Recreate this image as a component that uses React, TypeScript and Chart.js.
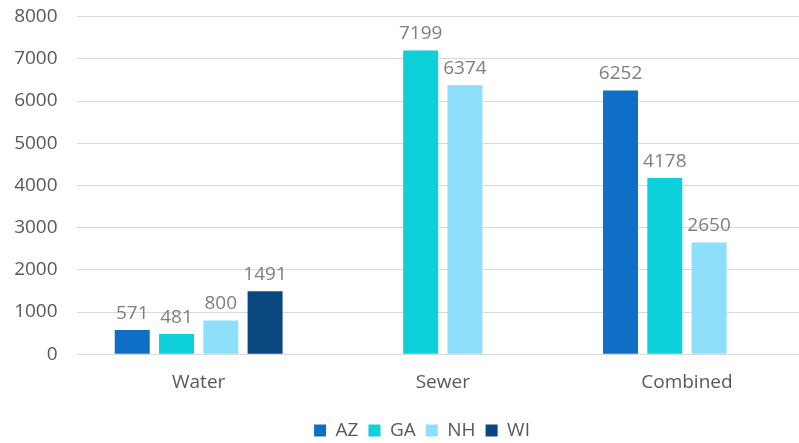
import React, { useEffect, useRef } from "react";
import { Chart, registerables } from "chart.js";

Chart.register(...registerables);

const categories = ["Water", "Sewer", "Combined"];
const seriesNames = ["AZ", "GA", "NH", "WI"];
const azValues: (number | null)[] = [571, null, 6252];
const gaValues: (number | null)[] = [481, 7199, 4178];
const nhValues: (number | null)[] = [800, 6374, 2650];
const wiValues: (number | null)[] = [1491, null, null];
const seriesColors = ["#0F6FC6", "#0DD0DA", "#8DDFFC", "#0A4680"];
const yTicks = [0, 1000, 2000, 3000, 4000, 5000, 6000, 7000, 8000];

const FONT = "'Open Sans', 'Noto Sans', sans-serif";

const valueLabels = {
  id: "valueLabels",
  afterDatasetsDraw(chart: any) {
    const ctx = chart.ctx;
    ctx.save();
    ctx.font = `19px ${FONT}`;
    ctx.fillStyle = "#7F7F7F";
    ctx.textAlign = "center";
    ctx.textBaseline = "alphabetic";
    chart.data.datasets.forEach((ds: any, di: number) => {
      const meta = chart.getDatasetMeta(di);
      meta.data.forEach((el: any, i: number) => {
        const v = ds.data[i];
        if (v === null || v === undefined) return;
        ctx.fillText(String(v), el.x, el.y - 11);
      });
    });
    ctx.restore();
  },
};

const legendShift = {
  id: "legendShift",
  afterLayout(chart: any) {
    if (chart.legend) {
      chart.legend.left += 11;
      chart.legend.right += 11;
    }
  },
};

export default function App() {
  const ref = useRef<HTMLCanvasElement | null>(null);
  useEffect(() => {
    if (!ref.current) return;
    const all = [azValues, gaValues, nhValues, wiValues];
    const chart = new Chart(ref.current, {
      type: "bar",
      data: {
        labels: categories,
        datasets: seriesNames.map((n, i) => ({
          label: n,
          data: all[i],
          backgroundColor: seriesColors[i],
          borderWidth: 0,
          categoryPercentage: 0.7255,
          barPercentage: 0.79,
        })),
      },
      options: {
        animation: false,
        responsive: false,
        maintainAspectRatio: false,
        layout: { padding: { left: 13, right: 3, top: 0, bottom: 0 } },
        plugins: {
          tooltip: { enabled: false },
          legend: {
            position: "bottom",
            labels: {
              boxWidth: 12,
              boxHeight: 12,
              padding: 10,
              color: "#595959",
              font: { family: FONT, size: 19 },
            },
          },
        },
        scales: {
          x: {
            grid: { display: false, drawTicks: false },
            border: { display: false },
            ticks: {
              color: "#595959",
              padding: 17,
              font: { family: FONT, size: 19 },
            },
          },
          y: {
            min: 0,
            max: 8000,
            afterBuildTicks: (axis: any) => {
              axis.ticks = yTicks.map((v) => ({ value: v }));
            },
            afterFit: (axis: any) => {
              axis.width = 63.6;
              axis.paddingTop = 16.7;
            },
            grid: { color: "#D9D9D9", lineWidth: 1, drawTicks: false },
            border: { display: false },
            ticks: {
              color: "#595959",
              padding: 19,
              font: { family: FONT, size: 19 },
              callback: (v: any) => String(v),
            },
          },
        },
      },
      plugins: [valueLabels, legendShift],
    });
    return () => chart.destroy();
  }, []);
  return (
    <div
      style={{
        position: "absolute",
        left: 0,
        top: 0,
        width: 799,
        height: 443,
        overflow: "hidden",
        background: "#fff",
      }}
    >
      <canvas ref={ref} width={812} height={450} style={{ display: "block" }} />
    </div>
  );
}
